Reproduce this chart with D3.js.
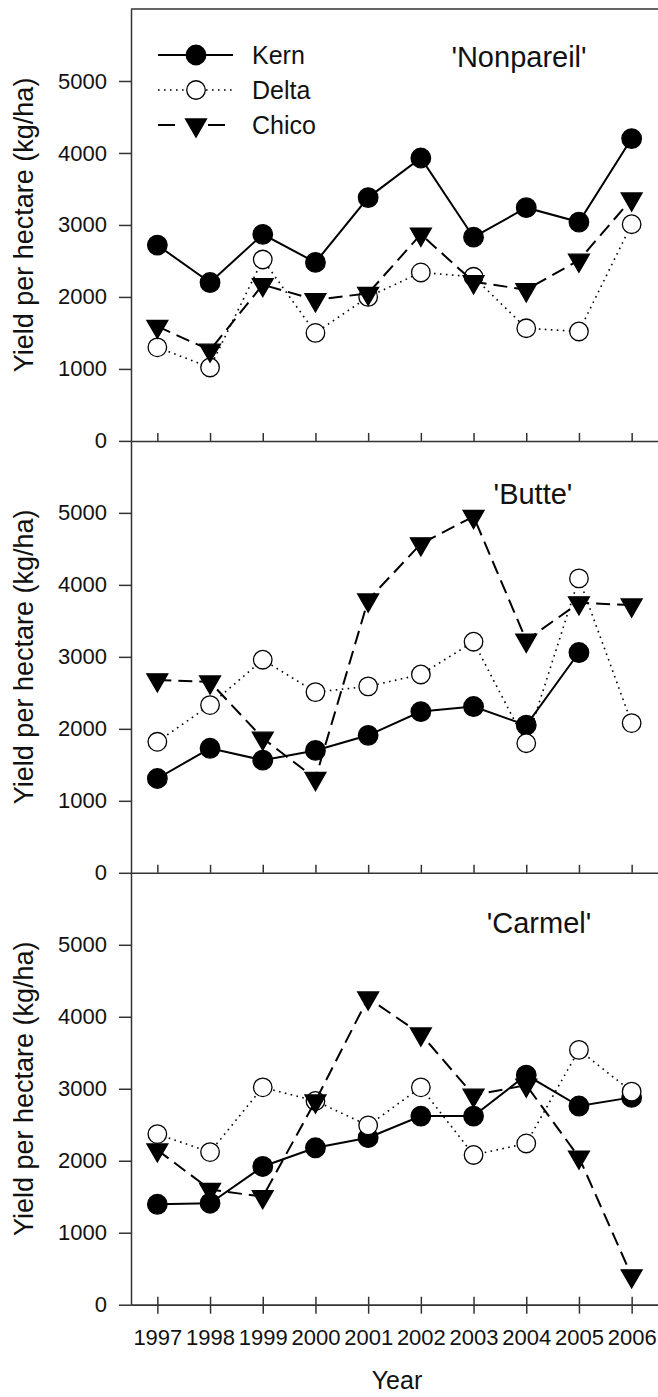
<!DOCTYPE html>
<html>
<head>
<meta charset="utf-8">
<script src="https://cdn.jsdelivr.net/npm/d3@7"></script>
<style>
  body { margin: 0; background: #fff; }
  svg { display: block; }
  text { font-family: Arial, "Liberation Sans", sans-serif; fill: #111; }
</style>
</head>
<body>
<div id="chart-area"></div>
<script>
// data (kg/ha)
const years = [1997, 1998, 1999, 2000, 2001, 2002, 2003, 2004, 2005, 2006]
const yTicks = [0, 1000, 2000, 3000, 4000, 5000]
const seriesNames = ["Kern", "Delta", "Chico"]
const panelTitles = ["'Nonpareil'", "'Butte'", "'Carmel'"]

const nonpareilKern  = [2720, 2200, 2870, 2480, 3380, 3930, 2830, 3240, 3040, 4200]
const nonpareilDelta = [1300, 1020, 2520, 1500, 2000, 2340, 2280, 1565, 1520, 3010]
const nonpareilChico = [1590, 1260, 2170, 1960, 2050, 2870, 2210, 2100, 2510, 3360]

const butteKern  = [1310, 1730, 1565, 1700, 1910, 2240, 2310, 2050, 3060, null]
const butteDelta = [1820, 2330, 2960, 2510, 2590, 2755, 3210, 1800, 4090, 2080]
const butteChico = [2680, 2650, 1870, 1310, 3790, 4570, 4950, 3230, 3750, 3720]

const carmelKern  = [1395, 1410, 1920, 2180, 2320, 2620, 2620, 3190, 2760, 2880]
const carmelDelta = [2370, 2120, 3020, 2830, 2490, 3020, 2080, 2240, 3540, 2960]
const carmelChico = [2150, 1600, 1500, 2830, 4260, 3760, 2910, 3050, 2050, 400]

const panelData = [
  [nonpareilKern, nonpareilDelta, nonpareilChico],
  [butteKern, butteDelta, butteChico],
  [carmelKern, carmelDelta, carmelChico]
]

const W = 658, H = 1397
const MARGIN = { LEFT: 131, TOP: 9 }
const PANEL_H = 431.9
const AXIS = "#333"

// where each panel's name sits (centre)
const TITLE_POS = [{ x: 519, dy: 48 }, { x: 533, dy: 53 }, { x: 539, dy: 50 }]

const STYLE = {
  Kern:  { dash: null,    width: 2,   symbol: d3.symbolCircle,   size: 300, fill: "#000", stroke: "#000", rot: 0 },
  Delta: { dash: "1.6,4.4", width: 1.6, symbol: d3.symbolCircle, size: 270, fill: "#fff", stroke: "#000", rot: 0 },
  Chico: { dash: "14,7",  width: 2,   symbol: d3.symbolTriangle, size: 190, fill: "#000", stroke: "#000", rot: 180 }
}

const svg = d3.select("#chart-area").append("svg")
  .attr("width", W)
  .attr("height", H)

const x = d3.scaleLinear()
  .domain([1996.5, 2006.5])
  .range([MARGIN.LEFT, W])

// top frame line of first panel
svg.append("line")
  .attr("x1", MARGIN.LEFT).attr("x2", W)
  .attr("y1", MARGIN.TOP).attr("y2", MARGIN.TOP)
  .attr("stroke", AXIS).attr("stroke-width", 1.5)

panelData.forEach((series, i) => {
  const top = MARGIN.TOP + i * PANEL_H
  const bottom = top + PANEL_H
  const last = i === panelData.length - 1

  const y = d3.scaleLinear()
    .domain([0, 6000])
    .range([bottom, top])

  // y axis
  const yAxis = svg.append("g")
    .attr("transform", `translate(${MARGIN.LEFT},0)`)
    .call(d3.axisLeft(y).tickValues(yTicks).tickSizeInner(12).tickSizeOuter(0)
      .tickPadding(12).tickFormat(d3.format("d")))
  yAxis.selectAll("text").attr("font-size", "22px").attr("fill", "#111")

  // x axis, ticks pointing up into the panel
  svg.append("g")
    .attr("transform", `translate(0,${bottom})`)
    .call(d3.axisBottom(x).tickValues(years).tickSizeInner(-8).tickSizeOuter(0).tickFormat(""))

  if (last) {
    const xOut = svg.append("g")
      .attr("transform", `translate(0,${bottom})`)
      .call(d3.axisBottom(x).tickValues(years).tickSizeInner(9).tickSizeOuter(0)
        .tickPadding(16).tickFormat(d3.format("d")))
    xOut.selectAll("text").attr("font-size", "22px").attr("fill", "#111")
  }

  svg.selectAll(".domain, .tick line").attr("stroke", AXIS).attr("stroke-width", 1.5)

  // y label
  svg.append("text")
    .attr("transform", `translate(33,${top + PANEL_H / 2}) rotate(-90)`)
    .attr("text-anchor", "middle")
    .attr("font-size", "27px")
    .text("Yield per hectare (kg/ha)")

  // panel name
  svg.append("text")
    .attr("x", TITLE_POS[i].x)
    .attr("y", top + TITLE_POS[i].dy)
    .attr("dy", "0.35em")
    .attr("text-anchor", "middle")
    .attr("font-size", "29px")
    .text(panelTitles[i])

  const line = d3.line()
    .defined(d => d.v != null)
    .x(d => x(d.year))
    .y(d => y(d.v))

  series.forEach((vals, s) => {
    const name = seriesNames[s]
    const st = STYLE[name]
    const pts = years.map((yr, k) => ({ year: yr, v: vals[k] }))

    svg.append("path")
      .datum(pts)
      .attr("fill", "none")
      .attr("stroke", "#000")
      .attr("stroke-width", st.width)
      .attr("stroke-dasharray", st.dash)
      .attr("d", line)

    svg.append("g").selectAll("path")
      .data(pts.filter(d => d.v != null))
      .enter().append("path")
      .attr("transform", d => `translate(${x(d.year)},${y(d.v)}) rotate(${st.rot})`)
      .attr("d", d3.symbol().type(st.symbol).size(st.size))
      .attr("fill", st.fill)
      .attr("stroke", st.stroke)
      .attr("stroke-width", 1.3)
  })
})

// legend (first panel)
const LEG = { X1: 158, X2: 233, XM: 196, XT: 252, Y: 55, STEP: 35 }
const legendDash = { Kern: null, Delta: "1.6,4.4", Chico: "17,33,17,100" }
seriesNames.forEach((name, k) => {
  const st = STYLE[name]
  const ly = LEG.Y + k * LEG.STEP
  svg.append("line")
    .attr("x1", LEG.X1).attr("x2", LEG.X2)
    .attr("y1", ly).attr("y2", ly)
    .attr("stroke", "#000")
    .attr("stroke-width", st.width)
    .attr("stroke-dasharray", legendDash[name])
  svg.append("path")
    .attr("transform", `translate(${LEG.XM},${ly}) rotate(${st.rot})`)
    .attr("d", d3.symbol().type(st.symbol).size(st.size))
    .attr("fill", st.fill)
    .attr("stroke", st.stroke)
    .attr("stroke-width", 1.3)
  svg.append("text")
    .attr("x", LEG.XT)
    .attr("y", ly)
    .attr("dy", "0.35em")
    .attr("font-size", "25px")
    .text(name)
})

// x label
svg.append("text")
  .attr("x", 397)
  .attr("y", 1380)
  .attr("dy", "0.35em")
  .attr("text-anchor", "middle")
  .attr("font-size", "25px")
  .text("Year")
</script>
</body>
</html>
